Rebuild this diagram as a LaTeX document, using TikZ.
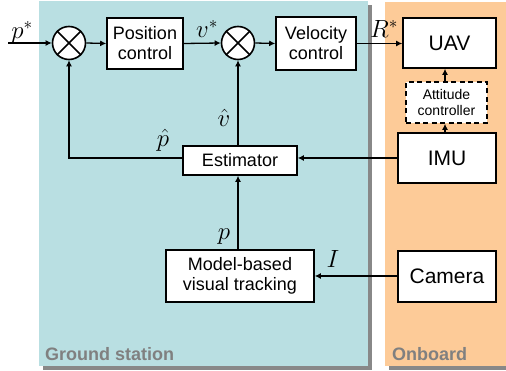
\documentclass[tikz,border=0pt]{standalone}
\usepackage{fontspec}
\setmainfont{Liberation Sans}
\usetikzlibrary{arrows.meta}
\definecolor{gsbg}{RGB}{185,223,226}
\definecolor{obbg}{RGB}{253,203,152}
\definecolor{shad}{RGB}{136,136,136}
\definecolor{lbl}{RGB}{128,128,128}
\begin{document}
\begin{tikzpicture}[x=1pt,y=-1pt,
  blk/.style={draw,line width=1.6pt,fill=white,inner sep=0pt,align=center,font=\fontsize{18}{20}\selectfont},
  obblk/.style={blk,font=\fontsize{21}{23}\selectfont},
  sumnode/.style={draw,circle,line width=1.6pt,fill=white,minimum size=33pt,inner sep=0pt},
  conn/.style={line width=1.3pt,-{Latex[length=6pt,width=6pt]}},
  mlabel/.style={font=\fontsize{27}{27}\selectfont,inner sep=0pt},
  arealabel/.style={text=lbl,font=\fontsize{18}{18}\selectfont\bfseries,inner sep=0pt,anchor=south west}]
\useasboundingbox (0,0) rectangle (506,371);
% areas
\fill[shad] (43,5) rectangle (372,370);
\fill[gsbg] (39,1) rectangle (368,366);
\fill[shad] (389,6) rectangle (510,370);
\fill[obbg] (385,2) rectangle (506,366);
\node[arealabel] (gslabel) at (45,361) {Ground station};
\node[arealabel] (oblabel) at (392,361) {Onboard};
% blocks
\node[sumnode] (s1) at (69,43) {};
\draw[line width=1.6pt] (s1.north west) -- (s1.south east) (s1.north east) -- (s1.south west);
\node[sumnode] (s2) at (238,43) {};
\draw[line width=1.6pt] (s2.north west) -- (s2.south east) (s2.north east) -- (s2.south west);
\node[blk,minimum width=76pt,minimum height=51pt] (pc) at (145,43.5) {Position\\control};
\node[blk,minimum width=80pt,minimum height=53pt] (vc) at (316,43.5) {Velocity\\control};
\node[obblk,minimum width=93pt,minimum height=50pt] (uav) at (449.5,43) {UAV};
\node[blk,dashed,dash pattern=on 5pt off 3.5pt,minimum width=81pt,minimum height=41pt,font=\fontsize{14}{16}\selectfont] (att) at (446.5,102.5) {Attitude\\controller};
\node[obblk,minimum width=98pt,minimum height=50pt] (imu) at (447,158) {IMU};
\node[blk,minimum width=114pt,minimum height=29pt] (est) at (240,160.5) {Estimator};
\node[blk,minimum width=148pt,minimum height=52pt] (mbt) at (240,276) {Model-based\\visual tracking};
\node[obblk,minimum width=98pt,minimum height=51pt] (cam) at (447,276.5) {Camera};
\coordinate (pin) at (8,43);
% connectors
\draw[conn] (pin) -- (s1.west);
\draw[conn] (s1.east) -- (pc.west);
\draw[conn] (pc.east) -- (s2.west);
\draw[conn] (s2.east) -- (vc.west);
\draw[conn] (vc.east) -- (vc.east -| uav.west);
\draw[conn] (att.north -| 445,0) -- (uav.south -| 445,0);
\draw[conn] (imu.north -| 445,0) -- (att.south -| 445,0);
\draw[conn] (imu.west |- 0,158) -- (est.east |- 0,158);
\draw[conn] (est.west |- 0,158) -| (s1.south);
\draw[conn] (est.north -| s2.south) -- (s2.south);
\draw[conn] (mbt.north -| s2.south) -- (est.south -| s2.south);
\draw[conn] (cam.west |- 0,276) -- (mbt.east |- 0,276);
% labels
\node[mlabel] (lps) at (22,32) {$p^*$};
\node[mlabel] (lvs) at (207,29) {$v^*$};
\node[mlabel] (lrs) at (384,29) {$R^*$};
\node[mlabel] (lph) at (163,140) {$\hat p$};
\node[mlabel] (lvh) at (224,118) {$\hat v$};
\node[mlabel] (lp) at (224,237) {$p$};
\node[mlabel] (li) at (333,259) {$I$};
\end{tikzpicture}
\end{document}
